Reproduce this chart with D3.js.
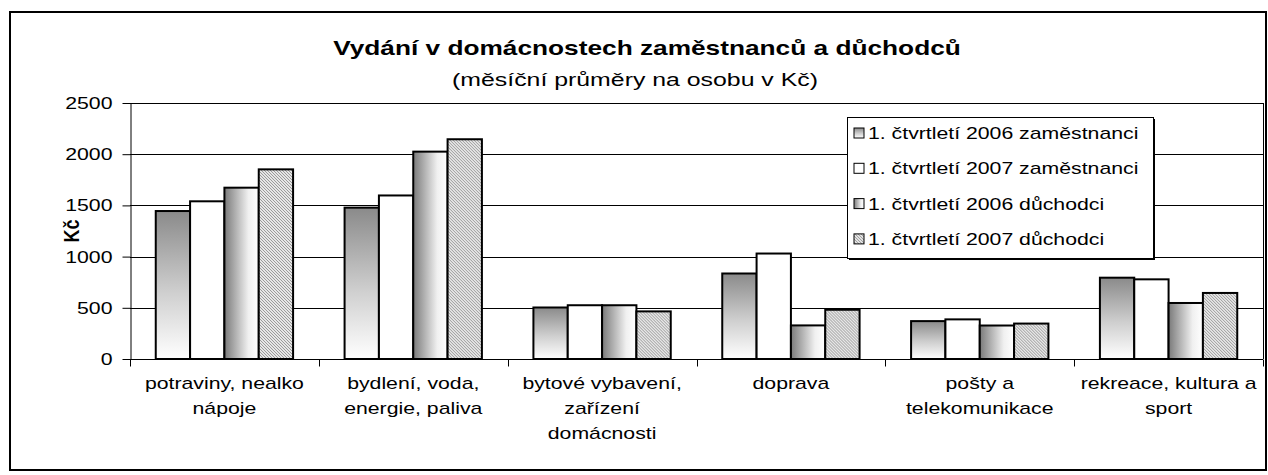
<!DOCTYPE html>
<html><head><meta charset="utf-8">
<script src="https://cdn.jsdelivr.net/npm/d3@7"></script>
<style>html,body{margin:0;padding:0;background:#fff;} svg{display:block;font-family:"Liberation Sans",Arial,sans-serif;}</style>
</head><body><svg id="c" width="1268" height="475"></svg>
<script>
const categories = ["potraviny, nealko\nnápoje", "bydlení, voda,\nenergie, paliva", "bytové vybavení,\nzařízení\ndomácnosti", "doprava", "pošty a\ntelekomunikace", "rekreace, kultura a\nsport"];
const seriesNames = ["1. čtvrtletí 2006 zaměstnanci", "1. čtvrtletí 2007 zaměstnanci", "1. čtvrtletí 2006 důchodci", "1. čtvrtletí 2007 důchodci"];
const zam2006 = [1445, 1478, 503, 835, 370, 794];
const zam2007 = [1540, 1597, 525, 1030, 387, 778];
const duch2006 = [1673, 2025, 525, 328, 327, 547];
const duch2007 = [1852, 2146, 465, 481, 346, 645];
const yTicks = [0, 500, 1000, 1500, 2000, 2500];
const titleText = "Vydání v domácnostech zaměstnanců a důchodců";
const subtitleText = "(měsíční průměry na osobu v Kč)";
const yLabel = "Kč";

const seriesValues = [zam2006, zam2007, duch2006, duch2007];
const fills = ["url(#g1)", "#ffffff", "url(#g3)", "url(#p4)"];
const SX = 1.25;

const svg = d3.select("#c");
const plot = {l: 130, r: 1263, t: 103, b: 359};

// defs
const defs = svg.append("defs");
const g1 = defs.append("linearGradient").attr("id", "g1").attr("x1", 0).attr("y1", 0).attr("x2", 0).attr("y2", 1);
g1.append("stop").attr("offset", 0).attr("stop-color", "#8a8a8a");
g1.append("stop").attr("offset", 0.55).attr("stop-color", "#cfcfcf");
g1.append("stop").attr("offset", 1).attr("stop-color", "#ffffff");
const g3 = defs.append("linearGradient").attr("id", "g3").attr("x1", 0).attr("y1", 0).attr("x2", 1).attr("y2", 0);
g3.append("stop").attr("offset", 0).attr("stop-color", "#7a7a7a");
g3.append("stop").attr("offset", 0.7).attr("stop-color", "#f0f0f0");
g3.append("stop").attr("offset", 1).attr("stop-color", "#ffffff");
const p4 = defs.append("pattern").attr("id", "p4").attr("patternUnits", "userSpaceOnUse").attr("width", 3).attr("height", 3);
p4.append("rect").attr("width", 3).attr("height", 3).attr("fill", "#e6e6e6");
p4.append("path").attr("d", "M-1,2 l2,2 M0,0 l3,3 M2,-1 l2,2").attr("stroke", "#9a9a9a").attr("stroke-width", 1);

// outer border
svg.append("rect").attr("x", 10).attr("y", 12).attr("width", 1256).attr("height", 458)
  .attr("fill", "#fff").attr("stroke", "#000").attr("stroke-width", 2);

const x0 = d3.scaleBand().domain(d3.range(categories.length)).range([plot.l, plot.r]).paddingInner(0).paddingOuter(0);
const bw = x0.bandwidth();
const gap = bw * 0.75 / 5.5;
const x1 = d3.scaleBand().domain(d3.range(4)).range([gap, bw - gap]).padding(0);
const y = d3.scaleLinear().domain([0, 2500]).range([plot.b, plot.t]);

function stretch(sel) {
  sel.each(function() {
    const t = d3.select(this);
    const x = +t.attr("x") || 0;
    t.attr("x", x / SX).attr("transform", (t.attr("transform") || "") + ` scale(${SX},1)`);
  });
}

// gridlines
svg.append("g").selectAll("line").data(yTicks.filter(d => d > 0)).join("line")
  .attr("x1", plot.l).attr("x2", plot.r)
  .attr("y1", d => Math.round(y(d)) + 0.5).attr("y2", d => Math.round(y(d)) + 0.5)
  .attr("stroke", "#000").attr("stroke-width", 1);

// bars
const groups = svg.append("g").selectAll("g").data(categories).join("g")
  .attr("transform", (d, i) => `translate(${x0(i)},0)`);
groups.selectAll("rect").data((d, i) => seriesValues.map((s, k) => ({k, v: s[i]}))).join("rect")
  .attr("x", d => x1(d.k))
  .attr("y", d => y(d.v))
  .attr("width", x1.bandwidth())
  .attr("height", d => y(0) - y(d.v))
  .attr("fill", d => fills[d.k])
  .attr("stroke", "#000").attr("stroke-width", 2);

// y axis
const yAxis = svg.append("g").attr("transform", `translate(${plot.l + 0.5},0)`)
  .call(d3.axisLeft(y).tickValues(yTicks).tickFormat(d3.format("d")).tickSize(8).tickPadding(10).tickSizeOuter(0));
yAxis.select(".domain").attr("stroke", "#000");
yAxis.selectAll(".tick line").attr("stroke", "#000");
yAxis.selectAll("text").attr("font-size", 17).attr("fill", "#000").attr("font-family", "Liberation Sans, Arial, sans-serif").call(stretch);

// x axis
const xAxisG = svg.append("g").attr("transform", `translate(0,${plot.b + 0.5})`);
xAxisG.append("line").attr("x1", plot.l).attr("x2", plot.r).attr("stroke", "#000");
xAxisG.selectAll("line.t").data(d3.range(categories.length + 1)).join("line").attr("class", "t")
  .attr("x1", i => Math.round(plot.l + i * bw) + 0.5).attr("x2", i => Math.round(plot.l + i * bw) + 0.5)
  .attr("y1", 0).attr("y2", 7).attr("stroke", "#000");
svg.append("line").attr("x1", plot.r + 0.5).attr("x2", plot.r + 0.5).attr("y1", plot.t).attr("y2", plot.b)
  .attr("stroke", "#000");

const lab = svg.append("g").selectAll("text").data(categories).join("text")
  .attr("font-size", 17).attr("text-anchor", "middle").attr("fill", "#000")
  .attr("transform", (d, i) => `translate(${x0(i) + bw / 2},0) scale(${SX},1)`);
lab.selectAll("tspan").data(d => d.split("\n")).join("tspan")
  .attr("x", 0).attr("y", (d, j) => 389 + j * 25).text(d => d);

// title
svg.append("text").attr("transform", `translate(647,55) scale(${SX},1)`)
  .attr("text-anchor", "middle").attr("font-size", 21).attr("font-weight", "bold").text(titleText);
svg.append("text").attr("transform", `translate(635,86) scale(1.42,1)`)
  .attr("text-anchor", "middle").attr("font-size", 17.5).text(subtitleText);

// y label
svg.append("text").attr("transform", `translate(79,231) rotate(-90) scale(1,${SX})`)
  .attr("text-anchor", "middle").attr("font-size", 18).attr("font-weight", "bold").text(yLabel);

// legend
const L = {x: 847, y: 117, w: 306, h: 141};
svg.append("rect").attr("x", L.x + 2).attr("y", L.y + 2).attr("width", L.w).attr("height", L.h).attr("fill", "#000");
svg.append("rect").attr("x", L.x + 0.5).attr("y", L.y + 0.5).attr("width", L.w).attr("height", L.h)
  .attr("fill", "#fff").attr("stroke", "#000").attr("stroke-width", 1);
const li = svg.append("g").selectAll("g").data(seriesNames).join("g")
  .attr("transform", (d, i) => `translate(${L.x + 7},${L.y + 16 + i * 35.3})`);
li.append("rect").attr("x", 0).attr("y", -5).attr("width", 10).attr("height", 10)
  .attr("fill", (d, i) => fills[i]).attr("stroke", "#000").attr("stroke-width", 1);
li.append("text").attr("transform", `translate(14,6) scale(${SX},1)`).attr("font-size", 17).text(d => d);
</script>
</body></html>
